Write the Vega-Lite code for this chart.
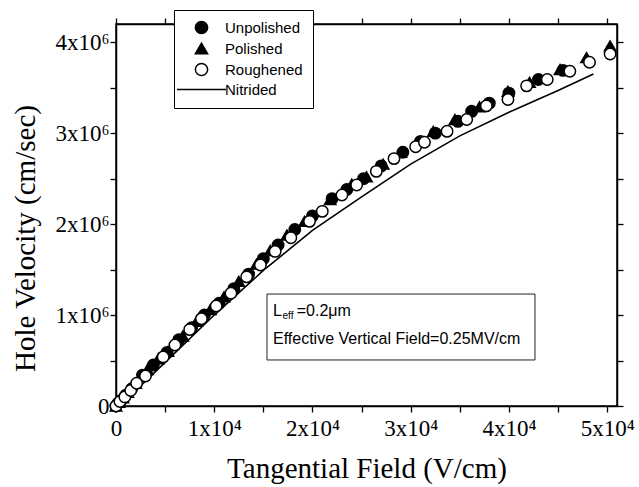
{
  "$schema": "https://vega.github.io/schema/vega-lite/v6.json",
  "width": 501,
  "height": 382,
  "autosize": {"type": "none"},
  "padding": {"left": 116, "top": 24, "right": 22, "bottom": 81},
  "background": "white",
  "view": {"stroke": "black", "strokeWidth": 1.5, "fill": null},
  "config": {
    "axis": {
      "grid": false,
      "domain": true,
      "domainColor": "black",
      "domainWidth": 1.5,
      "tickColor": "black",
      "tickWidth": 1.3,
      "tickSize": 6,
      "ticks": true,
      "zindex": 1,
      "labelFlush": false,
      "labelColor": "black",
      "labelFont": "Liberation Serif",
      "labelFontSize": 23,
      "titleFont": "Liberation Serif",
      "titleFontSize": 29,
      "titleFontWeight": "normal",
      "titleColor": "black"
    },
    "legend": {
      "labelFont": "Liberation Sans",
      "labelFontSize": 15,
      "labelColor": "black"
    }
  },
  "resolve": {"axis": {"x": "independent", "y": "independent"}},
  "datasets": {
    "pts": [
      {"series": "Unpolished", "E": 0, "v": 0},
      {"series": "Unpolished", "E": 200, "v": 30000},
      {"series": "Unpolished", "E": 500, "v": 60000},
      {"series": "Unpolished", "E": 1000, "v": 120000},
      {"series": "Unpolished", "E": 1600, "v": 190000},
      {"series": "Unpolished", "E": 2700, "v": 340000},
      {"series": "Unpolished", "E": 3800, "v": 450000},
      {"series": "Unpolished", "E": 5200, "v": 590000},
      {"series": "Unpolished", "E": 6400, "v": 730000},
      {"series": "Unpolished", "E": 7700, "v": 860000},
      {"series": "Unpolished", "E": 9000, "v": 1000000},
      {"series": "Unpolished", "E": 10500, "v": 1130000},
      {"series": "Unpolished", "E": 12000, "v": 1290000},
      {"series": "Unpolished", "E": 13500, "v": 1450000},
      {"series": "Unpolished", "E": 15000, "v": 1620000},
      {"series": "Unpolished", "E": 16500, "v": 1770000},
      {"series": "Unpolished", "E": 18200, "v": 1940000},
      {"series": "Unpolished", "E": 20000, "v": 2090000},
      {"series": "Unpolished", "E": 22000, "v": 2280000},
      {"series": "Unpolished", "E": 23500, "v": 2380000},
      {"series": "Unpolished", "E": 25200, "v": 2500000},
      {"series": "Unpolished", "E": 27000, "v": 2640000},
      {"series": "Unpolished", "E": 29200, "v": 2790000},
      {"series": "Unpolished", "E": 31000, "v": 2910000},
      {"series": "Unpolished", "E": 32500, "v": 3000000},
      {"series": "Unpolished", "E": 34800, "v": 3130000},
      {"series": "Unpolished", "E": 36200, "v": 3240000},
      {"series": "Unpolished", "E": 38000, "v": 3330000},
      {"series": "Unpolished", "E": 40000, "v": 3440000},
      {"series": "Unpolished", "E": 43000, "v": 3590000},
      {"series": "Unpolished", "E": 45500, "v": 3690000},
      {"series": "Polished", "E": 0, "v": 0},
      {"series": "Polished", "E": 300, "v": 40000},
      {"series": "Polished", "E": 700, "v": 90000},
      {"series": "Polished", "E": 1200, "v": 150000},
      {"series": "Polished", "E": 2000, "v": 250000},
      {"series": "Polished", "E": 3200, "v": 400000},
      {"series": "Polished", "E": 4300, "v": 520000},
      {"series": "Polished", "E": 5300, "v": 600000},
      {"series": "Polished", "E": 6800, "v": 770000},
      {"series": "Polished", "E": 8200, "v": 930000},
      {"series": "Polished", "E": 9600, "v": 1060000},
      {"series": "Polished", "E": 11000, "v": 1200000},
      {"series": "Polished", "E": 12500, "v": 1370000},
      {"series": "Polished", "E": 14300, "v": 1560000},
      {"series": "Polished", "E": 15700, "v": 1710000},
      {"series": "Polished", "E": 17400, "v": 1880000},
      {"series": "Polished", "E": 19200, "v": 2030000},
      {"series": "Polished", "E": 21800, "v": 2270000},
      {"series": "Polished", "E": 24000, "v": 2440000},
      {"series": "Polished", "E": 25500, "v": 2520000},
      {"series": "Polished", "E": 27200, "v": 2660000},
      {"series": "Polished", "E": 29000, "v": 2790000},
      {"series": "Polished", "E": 32300, "v": 3020000},
      {"series": "Polished", "E": 34500, "v": 3150000},
      {"series": "Polished", "E": 37000, "v": 3290000},
      {"series": "Polished", "E": 39900, "v": 3460000},
      {"series": "Polished", "E": 42100, "v": 3560000},
      {"series": "Polished", "E": 45200, "v": 3700000},
      {"series": "Polished", "E": 47900, "v": 3830000},
      {"series": "Polished", "E": 50300, "v": 3960000},
      {"series": "Roughened", "E": 0, "v": 0},
      {"series": "Roughened", "E": 400, "v": 50000},
      {"series": "Roughened", "E": 900, "v": 100000},
      {"series": "Roughened", "E": 1500, "v": 170000},
      {"series": "Roughened", "E": 2100, "v": 250000},
      {"series": "Roughened", "E": 3000, "v": 330000},
      {"series": "Roughened", "E": 4800, "v": 540000},
      {"series": "Roughened", "E": 6000, "v": 670000},
      {"series": "Roughened", "E": 7500, "v": 840000},
      {"series": "Roughened", "E": 8700, "v": 960000},
      {"series": "Roughened", "E": 10200, "v": 1100000},
      {"series": "Roughened", "E": 11700, "v": 1240000},
      {"series": "Roughened", "E": 13300, "v": 1420000},
      {"series": "Roughened", "E": 14700, "v": 1550000},
      {"series": "Roughened", "E": 16200, "v": 1700000},
      {"series": "Roughened", "E": 17800, "v": 1850000},
      {"series": "Roughened", "E": 19700, "v": 2030000},
      {"series": "Roughened", "E": 21000, "v": 2140000},
      {"series": "Roughened", "E": 23000, "v": 2320000},
      {"series": "Roughened", "E": 24500, "v": 2430000},
      {"series": "Roughened", "E": 26500, "v": 2580000},
      {"series": "Roughened", "E": 28300, "v": 2720000},
      {"series": "Roughened", "E": 30500, "v": 2850000},
      {"series": "Roughened", "E": 31400, "v": 2900000},
      {"series": "Roughened", "E": 33700, "v": 3020000},
      {"series": "Roughened", "E": 35700, "v": 3150000},
      {"series": "Roughened", "E": 37700, "v": 3300000},
      {"series": "Roughened", "E": 39900, "v": 3370000},
      {"series": "Roughened", "E": 41800, "v": 3520000},
      {"series": "Roughened", "E": 43900, "v": 3590000},
      {"series": "Roughened", "E": 46200, "v": 3680000},
      {"series": "Roughened", "E": 48200, "v": 3780000},
      {"series": "Roughened", "E": 50300, "v": 3870000}
    ],
    "nitrided": [
      {"E": 0, "v": 0},
      {"E": 2500, "v": 220000},
      {"E": 5000, "v": 480000},
      {"E": 10000, "v": 1000000},
      {"E": 15000, "v": 1490000},
      {"E": 20000, "v": 1930000},
      {"E": 25000, "v": 2300000},
      {"E": 30000, "v": 2660000},
      {"E": 35000, "v": 2970000},
      {"E": 40000, "v": 3230000},
      {"E": 45000, "v": 3470000},
      {"E": 48600, "v": 3650000}
    ],
    "box": [
      {"x1": 15370, "x2": 42650, "y1": 1231000, "y2": 506000}
    ],
    "notes": [
      {"part": "main", "E": 15982, "v": 1044500, "text": "L"},
      {"part": "sub", "E": 16950, "v": 1044500, "text": "eff"},
      {"part": "main", "E": 18400, "v": 1044500, "text": "=0.2μm"},
      {"part": "main", "E": 15982, "v": 736600, "text": "Effective Vertical  Field=0.25MV/cm"}
    ]
  },
  "layer": [
    {
      "data": {"name": "box"},
      "mark": {"type": "rect", "fill": "white", "stroke": "#222", "strokeWidth": 1},
      "encoding": {
        "x": {"field": "x1", "type": "quantitative", "scale": {"domain": [0, 51000], "nice": false, "zero": false},
              "axis": {"orient": "top", "values": [0,5000,10000,15000,20000,25000,30000,35000,40000,45000,50000], "labels": false, "title": null}},
        "x2": {"field": "x2"},
        "y": {"field": "y1", "type": "quantitative", "scale": {"domain": [0, 4200000], "nice": false, "zero": false},
              "axis": {"orient": "right", "values": [0,500000,1000000,1500000,2000000,2500000,3000000,3500000,4000000], "labels": false, "title": null}},
        "y2": {"field": "y2"}
      }
    },
    {
      "data": {"name": "nitrided"},
      "mark": {"type": "line", "color": "black", "strokeWidth": 1.6},
      "encoding": {
        "x": {"field": "E", "type": "quantitative", "axis": null},
        "y": {"field": "v", "type": "quantitative", "axis": null}
      }
    },
    {
      "data": {"name": "pts"},
      "mark": {"type": "point", "filled": true, "stroke": "black", "strokeWidth": 1.5, "opacity": 1, "size": 130},
      "encoding": {
        "x": {"field": "E", "type": "quantitative",
              "axis": {"orient": "bottom", "values": [0,5000,10000,15000,20000,25000,30000,35000,40000,45000,50000],
                       "labelExpr": "datum.value === 0 ? '0' : (datum.value % 10000 === 0 ? (datum.value / 10000) + 'x10⁴' : '')",
                       "labelPadding": 5, "title": "Tangential Field (V/cm)", "titlePadding": 14}},
        "y": {"field": "v", "type": "quantitative",
              "axis": {"orient": "left", "values": [0,500000,1000000,1500000,2000000,2500000,3000000,3500000,4000000],
                       "labelExpr": "datum.value === 0 ? '0' : (datum.value % 1000000 === 0 ? (datum.value / 1000000) + 'x10⁶' : '')",
                       "labelPadding": 1, "title": "Hole Velocity (cm/sec)", "titlePadding": 14, "titleY": 214}},
        "shape": {"field": "series", "type": "nominal",
                  "scale": {"domain": ["Unpolished", "Polished", "Roughened", "Nitrided"], "range": ["circle", "triangle-up", "circle", "M-4,0H4"]},
                  "legend": {"title": null, "orient": "none", "legendX": 58, "legendY": -14, "strokeColor": "black", "fillColor": "white",
                             "padding": 10, "symbolOffset": 10, "labelOffset": 16, "rowPadding": 3, "symbolSize": 150,
                             "encode": {"symbols": {"update": {"stroke": {"value": "black"}, "strokeWidth": {"value": 1.5}}}}}},
        "fill": {"field": "series", "type": "nominal",
                 "scale": {"domain": ["Unpolished", "Polished", "Roughened", "Nitrided"], "range": ["black", "black", "white", "white"]},
                 "legend": {"title": null, "orient": "none", "legendX": 58, "legendY": -14, "strokeColor": "black", "fillColor": "white",
                             "padding": 10, "symbolOffset": 10, "labelOffset": 16, "rowPadding": 3, "symbolSize": 150,
                             "encode": {"symbols": {"update": {"stroke": {"value": "black"}, "strokeWidth": {"value": 1.5}}}}}}
      }
    },
    {
      "data": {"name": "notes"},
      "transform": [{"filter": "datum.part === 'main'"}],
      "mark": {"type": "text", "font": "Liberation Sans", "fontSize": 16, "align": "left", "baseline": "middle", "color": "black"},
      "encoding": {
        "x": {"field": "E", "type": "quantitative", "axis": null},
        "y": {"field": "v", "type": "quantitative", "axis": null},
        "text": {"field": "text"}
      }
    },
    {
      "data": {"name": "notes"},
      "transform": [{"filter": "datum.part === 'sub'"}],
      "mark": {"type": "text", "font": "Liberation Sans", "fontSize": 10, "align": "left", "baseline": "middle", "dy": 5, "color": "black"},
      "encoding": {
        "x": {"field": "E", "type": "quantitative", "axis": null},
        "y": {"field": "v", "type": "quantitative", "axis": null},
        "text": {"field": "text"}
      }
    }
  ]
}
